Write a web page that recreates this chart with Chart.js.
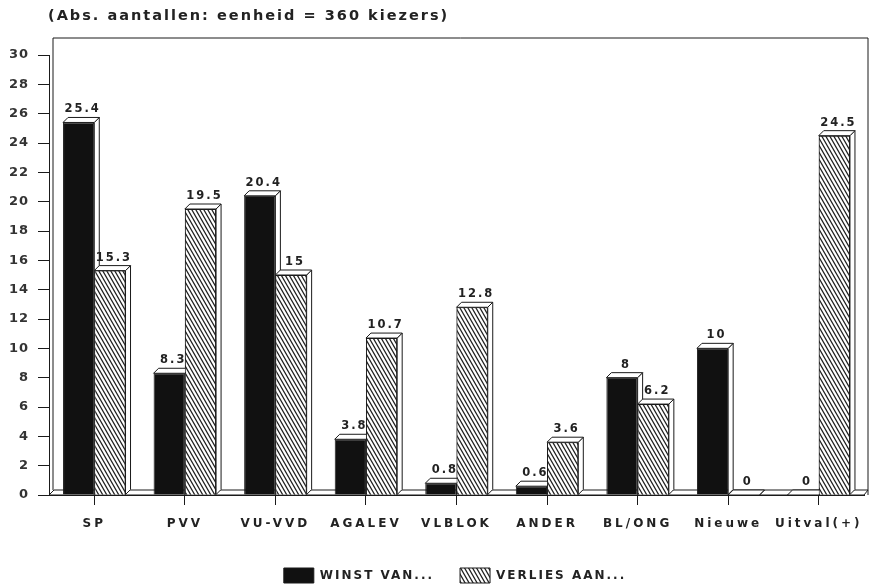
<!DOCTYPE html>
<html>
<head>
<meta charset="utf-8">
<script src="https://cdn.jsdelivr.net/npm/chart.js@4/dist/chart.umd.min.js"></script>
<style>
html,body{margin:0;padding:0;background:#fff;}
#wrap{width:873px;height:587px;position:relative;}
</style>
</head>
<body>
<div id="wrap"><canvas id="c" width="873" height="587"></canvas></div>
<script>
const titleText = '(Abs. aantallen: eenheid = 360 kiezers)';
const categories = ['SP', 'PVV', 'VU-VVD', 'AGALEV', 'VLBLOK', 'ANDER', 'BL/ONG', 'Nieuwe', 'Uitval(+)'];
const winstVan = [25.4, 8.3, 20.4, 3.8, 0.8, 0.6, 8, 10, 0];
const verliesAan = [15.3, 19.5, 15, 10.7, 12.8, 3.6, 6.2, 0, 24.5];
const seriesNames = ['WINST VAN...', 'VERLIES AAN...'];
const yMin = 0, yMax = 30, yStep = 2;

const INK = '#1a1a1a';
const FONT = "'DejaVu Sans', sans-serif";
const DX = 5, DY = 5;
const LEGEND_H = 30;

function makeHatch() {
  const w = 4, h = 7;
  const c = document.createElement('canvas');
  c.width = w; c.height = h;
  const g = c.getContext('2d');
  g.fillStyle = '#fff';
  g.fillRect(0, 0, w, h);
  g.strokeStyle = '#222';
  g.lineWidth = 1.3;
  g.beginPath();
  for (let k = -1; k <= 1; k++) {
    g.moveTo(k * w - w, -h);
    g.lineTo(k * w + 2 * w, 2 * h);
  }
  g.stroke();
  return g.createPattern(c, 'repeat');
}
const hatch = makeHatch();

function withSpacing(obj, method, sp, after) {
  if (!obj || !obj[method] || obj[method].__ls) return;
  const orig = obj[method];
  const f = function (...a) {
    const ctx = this.ctx;
    const prev = ctx.letterSpacing;
    ctx.letterSpacing = sp;
    try { const r = orig.apply(this, a); if (after) after(this); return r; }
    finally { ctx.letterSpacing = prev; }
  };
  f.__ls = true;
  obj[method] = f;
}

function drawFaces(ctx, meta) {
  ctx.save();
  ctx.strokeStyle = INK;
  ctx.lineWidth = 1;
  ctx.fillStyle = '#fff';
  meta.data.forEach((bar) => {
    const p = bar.getProps(['x', 'y', 'base', 'width'], true);
    const l = p.x - p.width / 2, r = p.x + p.width / 2, t = p.y, b = p.base;
    ctx.beginPath();
    ctx.moveTo(r, t);
    ctx.lineTo(r + DX, t - DY);
    ctx.lineTo(r + DX, b - DY);
    ctx.lineTo(r, b);
    ctx.closePath();
    ctx.fill(); ctx.stroke();
    ctx.beginPath();
    ctx.moveTo(l, t);
    ctx.lineTo(l + DX, t - DY);
    ctx.lineTo(r + DX, t - DY);
    ctx.lineTo(r, t);
    ctx.closePath();
    ctx.fill(); ctx.stroke();
  });
  ctx.restore();
}

function drawValues(ctx, meta, data) {
  ctx.save();
  ctx.fillStyle = '#222';
  ctx.font = 'bold 11.5px ' + FONT;
  ctx.letterSpacing = '2px';
  ctx.textAlign = 'center';
  ctx.textBaseline = 'alphabetic';
  meta.data.forEach((bar, i) => {
    const p = bar.getProps(['x', 'y'], true);
    ctx.fillText(String(data[i]), p.x + DX * 0.6 + 1, p.y - DY - 5);
  });
  ctx.restore();
}

const threeD = {
  id: 'threeD',
  beforeLayout(chart) {
    withSpacing(chart.legend, 'fit', '2px', (L) => { L.height = LEGEND_H; });
    withSpacing(chart.legend, 'draw', '2px');
    withSpacing(chart.titleBlock, 'draw', '2px');
    withSpacing(chart.scales.x, 'drawLabels', '3px');
    withSpacing(chart.scales.y, 'drawLabels', '1px');
  },
  afterLayout(chart) {
    const t = chart.titleBlock;
    if (t) { t.left = 48; }
    const L = chart.legend;
    if (L) {
      L.left += 18; L.right += 18;
      L.top -= 15; L.bottom = chart.height; L.height = L.bottom - L.top;
    }
  },
  beforeDraw(chart) {
    withSpacing(chart.scales.x, 'drawLabels', '3px');
    withSpacing(chart.scales.y, 'drawLabels', '1px');
  },
  beforeDatasetsDraw(chart) {
    const { ctx, chartArea: a } = chart;
    ctx.save();
    ctx.strokeStyle = INK;
    ctx.lineWidth = 1;
    ctx.beginPath();
    ctx.moveTo(a.left + 4, a.bottom - DY);
    ctx.lineTo(a.left + 4, a.top - 17);
    ctx.lineTo(a.right + 4, a.top - 17);
    ctx.lineTo(a.right + 4, a.bottom);
    ctx.stroke();
    ctx.fillStyle = '#fff';
    ctx.beginPath();
    ctx.moveTo(a.left, a.bottom);
    ctx.lineTo(a.left + DX, a.bottom - DY);
    ctx.lineTo(a.right + 4, a.bottom - DY);
    ctx.lineTo(a.right, a.bottom);
    ctx.closePath();
    ctx.fill();
    ctx.stroke();
    ctx.restore();
  },
  afterDatasetDraw(chart, args) {
    if (args.index !== 0) return;
    drawFaces(chart.ctx, args.meta);
    drawValues(chart.ctx, args.meta, chart.data.datasets[0].data);
  },
  afterDatasetsDraw(chart) {
    const ctx = chart.ctx;
    const meta = chart.getDatasetMeta(1);
    meta.data.forEach((el) => el.draw(ctx));
    drawFaces(ctx, meta);
    drawValues(ctx, meta, chart.data.datasets[1].data);
  }
};

new Chart(document.getElementById('c'), {
  type: 'bar',
  data: {
    labels: categories,
    datasets: [
      { label: seriesNames[0], data: winstVan, backgroundColor: '#111', borderColor: INK, borderWidth: 1 },
      { label: seriesNames[1], data: verliesAan, backgroundColor: hatch, borderColor: INK, borderWidth: 1 }
    ]
  },
  options: {
    responsive: false,
    animation: false,
    layout: { padding: { left: 10, right: 9, top: 0, bottom: 0 } },
    datasets: { bar: { categoryPercentage: 0.69, barPercentage: 1.0 } },
    plugins: {
      title: {
        display: true, text: titleText, align: 'start', color: '#222',
        font: { family: FONT, size: 14.5, weight: 'bold' },
        padding: { top: 8, bottom: 29.6 }
      },
      legend: {
        position: 'bottom',
        labels: {
          boxWidth: 30, boxHeight: 15, color: '#222', padding: 26,
          font: { family: FONT, size: 12, weight: 'bold' }
        }
      },
      tooltip: { enabled: false }
    },
    scales: {
      x: {
        offset: true,
        grid: { display: true, drawOnChartArea: false, offset: false, tickLength: 10, color: INK },
        border: { display: true, color: INK },
        ticks: { color: '#222', padding: 12, autoSkip: false, maxRotation: 0, minRotation: 0,
                 font: { family: FONT, size: 12, weight: 'bold' } },
        afterFit(s) { s.height = 62; }
      },
      y: {
        min: yMin, max: yMax,
        grid: { display: true, drawOnChartArea: false, tickLength: 11, color: INK },
        border: { display: true, color: INK },
        ticks: { stepSize: yStep, color: '#333', padding: 9, font: { family: FONT, size: 13, weight: 'bold' } },
        afterFit(s) { s.width = 39; }
      }
    }
  },
  plugins: [threeD]
});
</script>
</body>
</html>
